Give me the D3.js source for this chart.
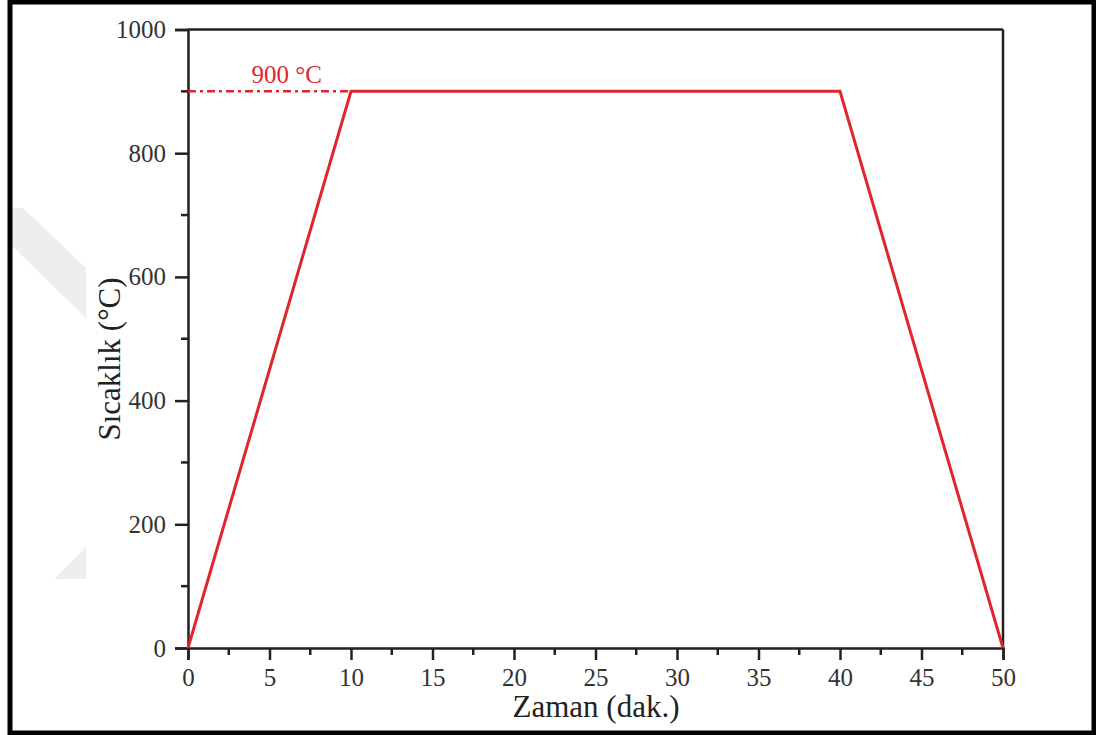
<!DOCTYPE html>
<html>
<head>
<meta charset="utf-8">
<script src="https://cdn.jsdelivr.net/npm/d3@7"></script>
<style>
  body { margin: 0; background: #fff; }
  svg { display: block; }
</style>
</head>
<body>
<svg id="chart" width="1096" height="735"></svg>
<script>
// data
const timeMin = [0, 10, 40, 50];
const tempC = [0, 900, 900, 0];
const xMajor = [0, 5, 10, 15, 20, 25, 30, 35, 40, 45, 50];
const yMajor = [0, 200, 400, 600, 800, 1000];
const holdTemp = 900;
const holdLabel = "900 °C";

const svg = d3.select("#chart");
const red = "#e0262c";
const axisCol = "#222";
const font = "'Liberation Serif', 'Times New Roman', serif";

// faint watermark
svg.append("polygon")
  .attr("points", "12,208 23,208 86,268 86,318 12,246")
  .attr("fill", "#eeeeee");
svg.append("polygon")
  .attr("points", "86,547 86,579 54,579")
  .attr("fill", "#eeeeee");

// outer frame
svg.append("rect")
  .attr("x", 10).attr("y", 2).attr("width", 1084).attr("height", 731)
  .attr("fill", "none").attr("stroke", "#000").attr("stroke-width", 5);

const x = d3.scaleLinear().domain([0, 50]).range([188, 1003]);
const y = d3.scaleLinear().domain([0, 1000]).range([648, 29.5]);

// minor ticks
const xMinor = d3.range(2.5, 50, 5);
const yMinor = d3.range(100, 1000, 200);

svg.append("g").selectAll("line").data(xMinor).join("line")
  .attr("x1", d => x(d)).attr("x2", d => x(d))
  .attr("y1", y(0)).attr("y2", y(0) + 7)
  .attr("stroke", axisCol).attr("stroke-width", 2.5);
svg.append("g").selectAll("line").data(yMinor).join("line")
  .attr("y1", d => y(d)).attr("y2", d => y(d))
  .attr("x1", x(0)).attr("x2", x(0) - 7)
  .attr("stroke", axisCol).attr("stroke-width", 2.5);

// main axes
const xAxis = svg.append("g").attr("transform", `translate(0,${y(0)})`)
  .call(d3.axisBottom(x).tickValues(xMajor).tickFormat(d3.format("d"))
    .tickSize(12).tickPadding(8));
const yAxis = svg.append("g").attr("transform", `translate(${x(0)},0)`)
  .call(d3.axisLeft(y).tickValues(yMajor).tickFormat(d3.format("d"))
    .tickSize(13).tickPadding(9));

[xAxis, yAxis].forEach(g => {
  g.attr("font-family", font).attr("font-size", 25);
  g.select(".domain").attr("stroke", axisCol).attr("stroke-width", 2.5);
  g.selectAll(".tick line").attr("stroke", axisCol).attr("stroke-width", 2.5);
  g.selectAll(".tick text").attr("fill", "#333");
});

// top and right frame of the plot
svg.append("line").attr("x1", x(0)).attr("x2", x(50)).attr("y1", y(1000)).attr("y2", y(1000))
  .attr("stroke", axisCol).attr("stroke-width", 2.5);
svg.append("line").attr("x1", x(50)).attr("x2", x(50)).attr("y1", y(1000)).attr("y2", y(0))
  .attr("stroke", axisCol).attr("stroke-width", 2.5);

// dash-dot reference line to the hold temperature
svg.append("line")
  .attr("x1", x(0)).attr("x2", x(timeMin[1]))
  .attr("y1", y(holdTemp)).attr("y2", y(holdTemp))
  .attr("stroke", red).attr("stroke-width", 2.5)
  .attr("stroke-dasharray", "8,4,3,4");

svg.append("text")
  .attr("x", x(6.05)).attr("y", y(holdTemp) - 8)
  .attr("text-anchor", "middle")
  .attr("fill", red)
  .attr("font-family", font).attr("font-size", 25)
  .text(holdLabel);

// temperature profile
const line = d3.line().x((d, i) => x(timeMin[i])).y(d => y(d));
svg.append("path")
  .datum(tempC)
  .attr("d", line)
  .attr("fill", "none")
  .attr("stroke", red)
  .attr("stroke-width", 3)
  .attr("stroke-linejoin", "miter");

// axis titles
svg.append("text")
  .attr("x", 596).attr("y", 717)
  .attr("text-anchor", "middle").attr("fill", "#222")
  .attr("font-family", font).attr("font-size", 31)
  .text("Zaman (dak.)");

svg.append("text")
  .attr("transform", "translate(120,359) rotate(-90)")
  .attr("text-anchor", "middle").attr("fill", "#222")
  .attr("font-family", font).attr("font-size", 31)
  .text("Sıcaklık (°C)");
</script>
</body>
</html>
